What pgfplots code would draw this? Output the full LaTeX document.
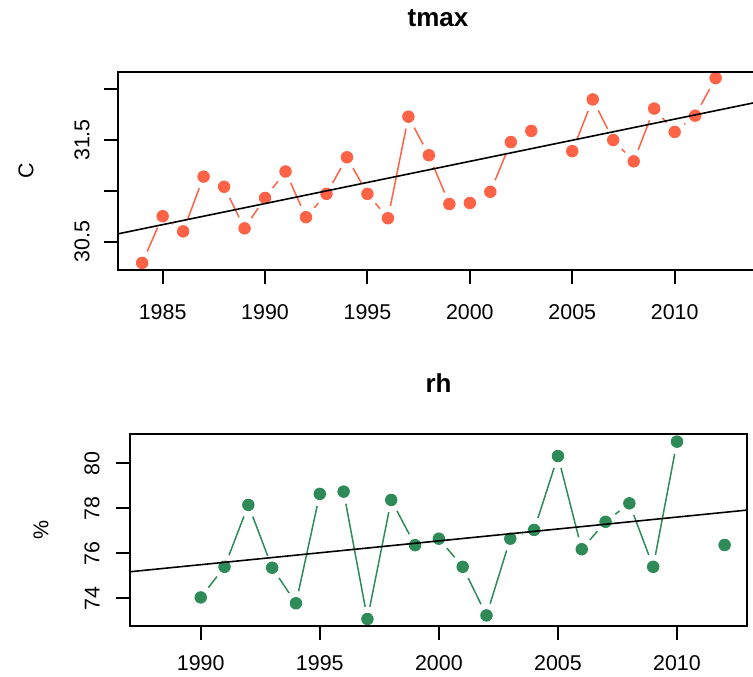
\documentclass[border=0pt]{standalone}
\usepackage{pgfplots}
\usepackage{pgfplotstable}
\pgfplotsset{compat=1.18}
\usepackage{fontspec}
\setmainfont{Liberation Sans}
\definecolor{tomato}{HTML}{FF6347}
\definecolor{seagreen}{HTML}{2E8B57}

\pgfplotstableread{
year tmax
1984 30.29
1985 30.75
1986 30.60
1987 31.14
1988 31.04
1989 30.63
1990 30.93
1991 31.19
1992 30.74
1993 30.97
1994 31.33
1995 30.97
1996 30.73
1997 31.73
1998 31.35
1999 30.87
2000 30.88
2001 30.99
2002 31.48
2003 31.59
2004 nan
2005 31.39
2006 31.90
2007 31.50
2008 31.29
2009 31.81
2010 31.58
2011 31.74
2012 32.11
}\tmaxdata

\pgfplotstableread{
year rh
1990 74.04
1991 75.40
1992 78.15
1993 75.36
1994 73.78
1995 78.64
1996 78.74
1997 73.08
1998 78.37
1999 76.36
2000 76.65
2001 75.40
2002 73.24
2003 76.65
2004 77.04
2005 80.32
2006 76.18
2007 77.40
2008 78.22
2009 75.40
2010 80.96
2011 nan
2012 76.37
}\rhdata

\pgfplotsset{
  rbase/.style={
    scale only axis, axis on top, enlargelimits=false,
    clip marker paths=true,
    axis line style={line width=1pt},
    tick style={line width=1pt, black},
    tick align=outside, tick pos=left,
    major tick length=7pt,
    unbounded coords=jump,
    ticklabel style={font=\fontsize{10.7}{12}\selectfont, inner sep=0pt},
    yticklabel style={rotate=90, anchor=south},
    xticklabel style={anchor=north},
    title style={font=\bfseries\fontsize{13}{15}\selectfont,
      at={(axis description cs:0.5,1)}, anchor=base},
    label style={font=\fontsize{10.7}{12}\selectfont},
    ylabel style={anchor=center},
  },
}

\begin{document}
\begin{tikzpicture}
\useasboundingbox (0,0) rectangle (376.5pt,338pt);
\clip (0,0) rectangle (376.5pt,338pt);

% tmax
\begin{axis}[rbase, at={(59pt,203pt)}, anchor=south west,
  width=320pt, height=99pt,
  xmin=1982.82, xmax=2014.07, ymin=30.22, ymax=32.17,
  xtick={1985,1990,1995,2000,2005,2010},
  xticklabels={1985,1990,1995,2000,2005,2010},
  ytick={30.5,31,31.5,32}, yticklabels={30.5,,31.5,},
  xticklabel shift=10pt, yticklabel shift=7pt,
  title={tmax}, title style={yshift=16.5pt},
  ylabel={C}, ylabel style={at={(axis description cs:-0.1438,0.5)}}]
\addplot[tomato, line width=0.75pt, mark=none] table[x=year, y=tmax] {\tmaxdata};
\addplot[white, only marks, mark=*, mark size=6pt] table[x=year, y=tmax] {\tmaxdata};
\addplot[tomato, only marks, mark=*, mark size=2.9pt] table[x=year, y=tmax] {\tmaxdata};
\addplot[black, line width=0.8pt] coordinates {(1982.82,30.576) (2014.07,31.875)};
\end{axis}

% rh
\begin{axis}[rbase, at={(65pt,25pt)}, anchor=south west,
  width=308.5pt, height=96pt,
  xmin=1987.03, xmax=2012.94, ymin=72.77, ymax=81.30,
  xtick={1990,1995,2000,2005,2010},
  xticklabels={1990,1995,2000,2005,2010},
  ytick={74,76,78,80}, yticklabels={74,76,78,80},
  xticklabel shift=7.5pt, yticklabel shift=8pt,
  title={rh}, title style={yshift=14.5pt},
  ylabel={\%}, ylabel style={at={(axis description cs:-0.1442,0.5)}}]
\addplot[seagreen, line width=0.75pt, mark=none] table[x=year, y=rh] {\rhdata};
\addplot[white, only marks, mark=*, mark size=6pt] table[x=year, y=rh] {\rhdata};
\addplot[seagreen, only marks, mark=*, mark size=2.9pt] table[x=year, y=rh] {\rhdata};
\addplot[black, line width=0.8pt] coordinates {(1987.03,75.18) (2012.94,77.92)};
\end{axis}
\end{tikzpicture}
\end{document}
